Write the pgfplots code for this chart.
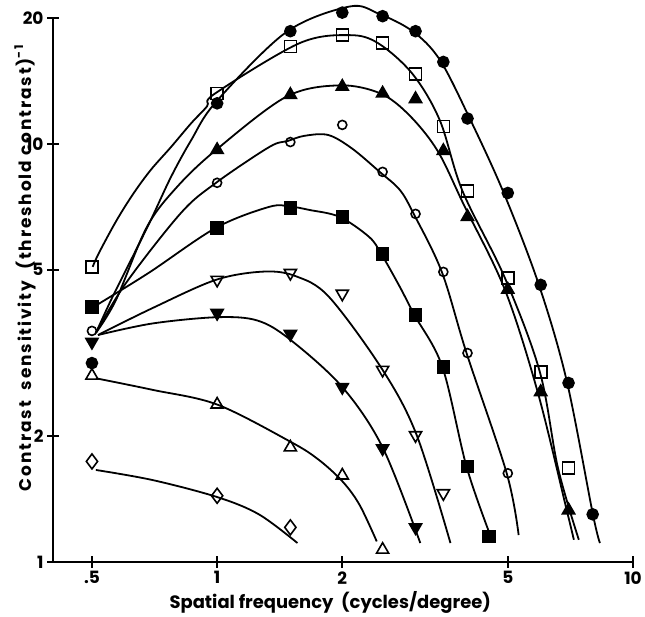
\documentclass[border=0pt]{standalone}
\usepackage{fontspec}
\setmainfont{Poppins}
\usepackage{pgfplots}
\pgfplotsset{compat=1.18}
\begin{document}
\begin{tikzpicture}
\begin{axis}[
  name=ax,
  scale only axis, width=580bp, height=544bp,
  xmode=log, ymode=log, xmin=0.403, xmax=10, ymin=1, ymax=20,
  axis x line=bottom, axis y line=left,
  axis line style={-, line width=2bp},
  xtick={0.5,1,2,5,10}, xticklabels={.5,1,2,5,10},
  ytick={1,2,5,10,20}, yticklabels={1,2,5,10,20},
  minor xtick={}, minor ytick={},
  major tick length=12bp, tick style={line width=2bp, black},
  clip=false,
  ticklabel style={font=\fontsize{17}{17}\selectfont\bfseries},
  xlabel={Spatial\ frequency\ \ (cycles/degree)},
  ylabel={Contrast\ \ sensitivity\ \ (threshold\ contrast)\raisebox{0.9ex}{\fontsize{12}{12}\selectfont -1}},
  xlabel style={font=\fontsize{18}{18}\selectfont\bfseries, at={(ticklabel cs:0.478)}},
  ylabel style={font=\fontsize{17}{17}\selectfont\bfseries\addfontfeatures{LetterSpace=11}, at={(axis description cs:-0.048,0.54)}, anchor=center},
  curve/.style={black, line width=1.8bp, smooth, tension=0.55, mark=none},
  mk/.style={black, only marks, line width=1.6bp},
]
% fitted curves
\addplot[curve] coordinates {(0.511,3.53)(0.56,4.3)(0.631,5.45)(0.693,6.58)(0.775,8.34)(0.866,10.2)(0.994,12.6)(1.466,18.5)(2.08,21.3)(2.44,20.5)(2.95,18.6)(3.43,15.9)(4.05,11.5)(4.89,7.63)(5.94,4.60)(6.93,2.71)(8.01,1.30)(8.33,1.11)};
\addplot[curve] coordinates {(0.502,5.08)(0.520,5.49)(0.574,6.58)(0.631,7.64)(0.693,8.67)(0.775,9.83)(0.866,11.2)(0.946,12.3)(0.989,13.2)(1.576,17.4)(2.08,18.2)(2.44,17.4)(2.95,14.7)(3.43,11.4)(3.89,7.72)(4.92,4.78)(5.97,2.85)(6.60,1.68)(7.41,1.13)};
\addplot[curve] coordinates {(0.511,3.53)(0.571,4.23)(0.678,6.33)(0.801,7.89)(0.994,9.67)(1.466,12.96)(1.97,13.8)(2.47,13.2)(2.90,11.7)(3.39,9.62)(3.92,7.15)(4.92,4.48)(5.90,2.55)(6.93,1.33)(7.21,1.13)};
\addplot[curve] coordinates {(0.511,3.53)(0.604,4.65)(0.819,6.84)(0.994,8.07)(1.335,9.83)(1.475,10.15)(1.62,10.45)(1.85,10.5)(2.11,9.75)(2.46,8.57)(2.75,7.76)(2.97,6.80)(3.47,4.94)(3.98,3.16)(4.97,1.63)(5.31,1.16)};
\addplot[curve] coordinates {(0.51,4.1)(0.686,4.92)(0.994,6.30)(1.335,7.07)(1.5,7.08)(1.666,6.95)(1.97,6.69)(2.32,5.99)(2.48,5.46)(2.75,4.55)(2.98,3.90)(3.48,2.93)(3.98,1.69)(4.55,1.15)};
\addplot[curve] coordinates {(0.517,3.49)(0.70,4.05)(0.994,4.73)(1.30,4.95)(1.55,4.82)(1.86,4.3)(2.50,2.88)(3.02,2.01)(3.64,1.11)};
\addplot[curve] coordinates {(0.517,3.49)(0.70,3.72)(1.0,3.85)(1.25,3.78)(1.5,3.40)(2.0,2.62)(2.50,1.88)(3.08,1.11)};
\addplot[curve] coordinates {(0.511,2.75)(0.70,2.58)(1.0,2.38)(1.5,1.94)(1.75,1.76)(2.0,1.56)(2.2,1.37)(2.42,1.12)};
\addplot[curve] coordinates {(0.511,1.66)(0.70,1.57)(1.0,1.43)(1.26,1.30)(1.56,1.11)};
% data markers
\addplot[mk, mark=*, mark size=5.5bp] coordinates {(0.5,2.99)(1,12.5)(1.5,18.6)(2,20.6)(2.5,20.2)(3,18.6)(3.5,15.7)(4,11.5)(5,7.63)(6,4.60)(7,2.68)(8,1.30)};
\addplot[mk, mark=square, mark size=6bp, mark options={fill=white}] coordinates {(0.5,5.08)(1,13.2)(1.5,17.1)(2,18.2)(2.5,17.4)(3,14.7)(3.5,11.0)(4,7.72)(5,4.78)(6,2.85)(7,1.68)};
\addplot[mk, mark=triangle*, mark size=7bp] coordinates {(1,9.67)(1.5,13.1)(2,13.7)(2.5,13.2)(3,12.8)(3.5,9.62)(4,6.69)(5,4.48)(6,2.55)(7,1.33)};
\addplot[mk, mark=o, mark size=4.5bp, mark options={fill=white}] coordinates {(0.5,3.57)(1,8.07)(1.5,10.1)(2,11.1)(2.5,8.57)(3,6.80)(3.5,4.94)(4,3.16)(5,1.63)};
\addplot[mk, mark=square*, mark size=6bp] coordinates {(0.5,4.07)(1,6.30)(1.5,7.03)(2,6.69)(2.5,5.46)(3,3.90)(3.5,2.93)(4,1.69)(4.5,1.15)};
\addplot[mk, mark=triangle, mark size=7bp, mark options={rotate=180, fill=white}] coordinates {(1,4.73)(1.5,4.91)(2,4.38)(2.5,2.88)(3,2.01)(3.5,1.46)};
\addplot[mk, mark=triangle*, mark size=7bp, mark options={rotate=180}] coordinates {(0.5,3.36)(1,3.94)(1.5,3.51)(2,2.62)(2.5,1.87)(3,1.21)};
\addplot[mk, mark=triangle, mark size=7bp, mark options={fill=white}] coordinates {(0.5,2.79)(1,2.38)(1.5,1.88)(2,1.61)(2.5,1.07)};
\addplot[mk, mark=diamond, mark size=7.5bp, mark options={fill=white}] coordinates {(0.5,1.74)(1,1.44)(1.5,1.21)};
\end{axis}
\path (ax.south west) ++(-53bp,-46bp) rectangle ([shift={(12bp,18bp)}]ax.north east);
\end{tikzpicture}
\end{document}
